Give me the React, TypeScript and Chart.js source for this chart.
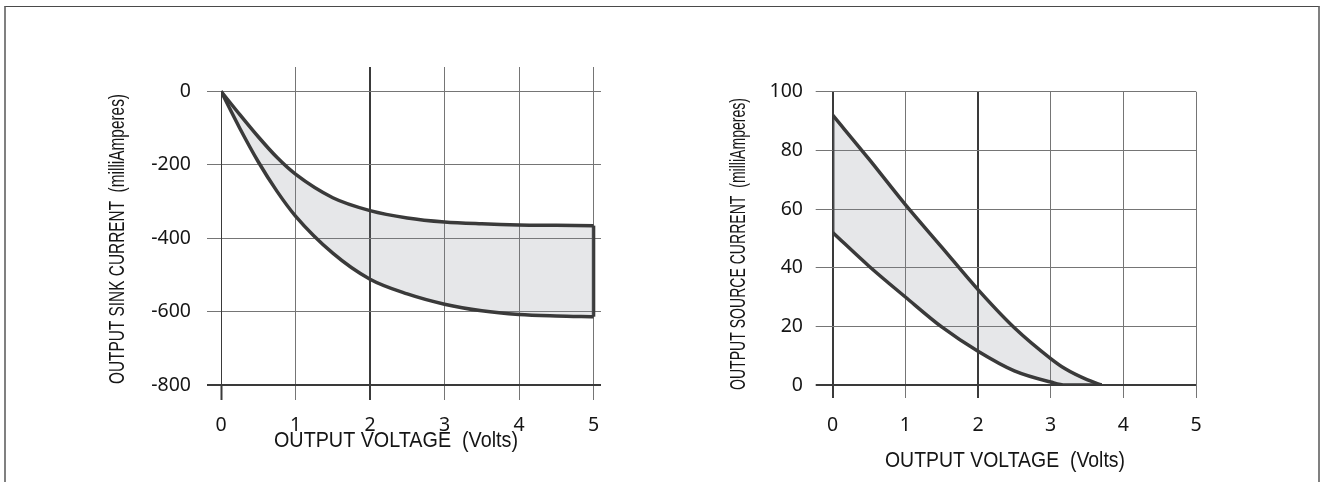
import React, { useEffect, useRef } from "react";
import { Chart, registerables } from "chart.js";

Chart.register(...registerables);

// ---------- data ----------
const voltTicks = [0, 1, 2, 3, 4, 5];
const sinkTicks = [0, -200, -400, -600, -800];
const sourceTicks = [0, 20, 40, 60, 80, 100];

const sinkVolts = [0, 0.25, 0.5, 0.75, 1, 1.5, 2, 2.5, 3, 3.5, 4, 4.5, 5];
const sinkUpper = [0, -63, -124, -180, -226, -290, -325, -345, -356, -361, -364, -365, -366];
const sinkLower = [0, -100, -192, -272, -340, -441, -512, -552, -580, -598, -608, -612, -614];

const sourceVolts = [0, 0.5, 1, 1.5, 2, 2.5, 3, 3.2, 3.5, 3.7];
const sourceUpper = [92, 77, 61.5, 47, 32.5, 19.5, 9, 5.5, 1.8, 0];
const sourceLower = [52, 40.5, 30, 19.8, 11.5, 4.8, 1, 0, 0, 0];

const xTitle = "OUTPUT VOLTAGE  (Volts)";
const sinkTitle = "OUTPUT SINK CURRENT  (milliAmperes)";
const sourceTitle = "OUTPUT SOURCE CURRENT  (milliAmperes)";

// ---------- styles ----------
const INK = "#3a3a3a";
const GRID = "#757575";
const DARK = "#3a3a3a";
const FILL = "rgba(130,135,145,0.2)";
const TEXT = "#151515";
const tickFont = { family: "'Noto Sans', 'Open Sans', sans-serif", size: 19.5 };
const TITLE_FONT = "21.5px 'Liberation Sans', Arial, sans-serif";

function pts(xs: number[], ys: number[]) {
  return xs.map((x, i) => ({ x, y: ys[i] }));
}

function curve(data: { x: number; y: number }[], fill: boolean, width = 3.5, color = INK) {
  return {
    data,
    borderColor: color,
    borderWidth: width,
    pointRadius: 0,
    cubicInterpolationMode: "monotone",
    fill: fill ? "-1" : false,
    backgroundColor: FILL,
    borderCapStyle: "butt",
    borderJoinStyle: "round",
  };
}

function tv(c: any) {
  return c && c.tick ? c.tick.value : NaN;
}

// Axis titles drawn as condensed canvas text (fillText with maxWidth)
const axisTitlePlugin = {
  id: "axisTitles",
  afterDraw(chart: any, _args: any, o: any) {
    const ctx = chart.ctx;
    ctx.save();
    ctx.fillStyle = TEXT;
    ctx.font = TITLE_FONT;
    ctx.textBaseline = "middle";
    ctx.textAlign = "center";
    ctx.fillText(o.xText, o.xCx, o.xCy, o.xW);
    ctx.translate(o.yCx, o.yStart);
    ctx.rotate(-Math.PI / 2);
    ctx.textAlign = "left";
    ctx.fillText(o.yText, 0, 0, o.yW);
    ctx.restore();
  },
};

function makeConfig(p: any): any {
  return {
    type: "line",
    data: { datasets: p.datasets },
    plugins: [axisTitlePlugin],
    options: {
      animation: false,
      responsive: false,
      events: [],
      layout: { padding: { left: 0, top: p.padTop, right: p.padRight, bottom: 0 } },
      plugins: {
        legend: { display: false },
        tooltip: { enabled: false },
        filler: { propagate: false },
        axisTitles: p.titles,
      },
      scales: {
        x: {
          type: "linear",
          min: p.xMin,
          max: p.xMax,
          afterBuildTicks: (s: any) => {
            s.ticks = voltTicks.map((v) => ({ value: v }));
          },
          afterFit: (s: any) => {
            s.height = p.xHeight;
          },
          border: { display: false },
          grid: {
            color: (c: any) => (p.xHidden.includes(tv(c)) ? "rgba(0,0,0,0)" : p.xDark.includes(tv(c)) ? DARK : GRID),
            lineWidth: (c: any) => (p.xDark.includes(tv(c)) ? 2 : 1),
            tickColor: (c: any) => (p.xDark.includes(tv(c)) || p.xHidden.includes(tv(c)) ? DARK : GRID),
            tickWidth: (c: any) => (p.xDark.includes(tv(c)) || p.xHidden.includes(tv(c)) ? 2 : 1),
            tickLength: p.xTickLen,
          },
          ticks: {
            color: TEXT,
            font: tickFont,
            padding: p.xTickPad,
            autoSkip: false,
            maxRotation: 0,
            callback: (v: any) => String(v),
          },
          title: { display: false },
        },
        y: {
          type: "linear",
          min: p.yMin,
          max: p.yMax,
          afterBuildTicks: (s: any) => {
            s.ticks = p.yTicks.map((v: number) => ({ value: v }));
          },
          afterFit: (s: any) => {
            s.width = p.yWidth;
          },
          border: { display: false },
          grid: {
            color: (c: any) => (p.yDark.includes(tv(c)) ? DARK : GRID),
            lineWidth: (c: any) => (p.yDark.includes(tv(c)) ? 2 : 1),
            tickColor: (c: any) => (p.yDark.includes(tv(c)) ? DARK : GRID),
            tickWidth: (c: any) => (p.yDark.includes(tv(c)) ? 2 : 1),
            tickLength: p.yTickLen,
          },
          ticks: {
            color: TEXT,
            font: tickFont,
            padding: p.yTickPad,
            autoSkip: false,
            callback: (v: any) => String(v),
          },
          title: { display: false },
        },
      },
    },
  };
}

function ChartCanvas({ config, left, width }: { config: any; left: number; width: number }) {
  const ref = useRef<HTMLCanvasElement | null>(null);
  useEffect(() => {
    if (!ref.current) return;
    const chart = new Chart(ref.current, config);
    return () => chart.destroy();
  }, [config]);
  return (
    <canvas
      ref={ref}
      width={width}
      height={482}
      style={{ position: "absolute", left, top: 0, width, height: 482 }}
    />
  );
}

const sinkConfig = makeConfig({
  datasets: [
    curve(pts(sinkVolts, sinkUpper), false),
    curve(pts(sinkVolts, sinkLower), true),
    curve(
      [
        { x: sinkVolts[sinkVolts.length - 1], y: sinkUpper[sinkUpper.length - 1] },
        { x: sinkVolts[sinkVolts.length - 1], y: sinkLower[sinkLower.length - 1] },
      ],
      false
    ),
    curve(
      [
        { x: voltTicks[0], y: sinkTicks[0] },
        { x: voltTicks[0], y: sinkTicks[sinkTicks.length - 1] },
      ],
      false,
      2,
      DARK
    ),
  ],
  titles: { xText: xTitle, xCx: 396, xCy: 441, xW: 244, yText: sinkTitle, yCx: 118, yStart: 384, yW: 290 },
  padTop: 67,
  padRight: 59,
  xMin: 0,
  xMax: 5.1,
  xHeight: 97,
  xHidden: [0],
  xDark: [2],
  xTickLen: 15,
  xTickPad: 13.3,
  yMin: -800,
  yMax: 66,
  yTicks: sinkTicks,
  yWidth: 221,
  yDark: [-800],
  yTickLen: 14,
  yTickPad: 16,
});

const sourceConfig = makeConfig({
  datasets: [
    curve(pts(sourceVolts, sourceUpper), false),
    curve(pts(sourceVolts, sourceLower), true),
    curve(
      [
        { x: sourceVolts[0], y: sourceLower[0] },
        { x: sourceVolts[0], y: sourceUpper[0] },
      ],
      false
    ),
  ],
  titles: { xText: xTitle, xCx: 345, xCy: 461, xW: 240, yText: sourceTitle, yCx: 79, yStart: 390, yW: 292 },
  padTop: 91.7,
  padRight: 130,
  xMin: 0,
  xMax: 5,
  xHeight: 97,
  xHidden: [],
  xDark: [0, 2],
  xTickLen: 13,
  xTickPad: 15.3,
  yMin: 0,
  yMax: 100,
  yTicks: sourceTicks,
  yWidth: 172.7,
  yDark: [0],
  yTickLen: 17,
  yTickPad: 12.7,
});

export default function App() {
  return (
    <div
      style={{
        position: "absolute",
        left: 0,
        top: 0,
        width: 1326,
        height: 482,
        overflow: "hidden",
        background: "#ffffff",
      }}
    >
      <div
        style={{
          position: "absolute",
          left: 4,
          top: 6,
          width: 1316,
          height: 520,
          borderTop: "1.5px solid #4a4a4a",
          borderLeft: "2px solid #808080",
          borderRight: "2px solid #808080",
          boxSizing: "border-box",
        }}
      />
      <ChartCanvas config={sinkConfig} left={0} width={660} />
      <ChartCanvas config={sourceConfig} left={660} width={666} />
    </div>
  );
}
